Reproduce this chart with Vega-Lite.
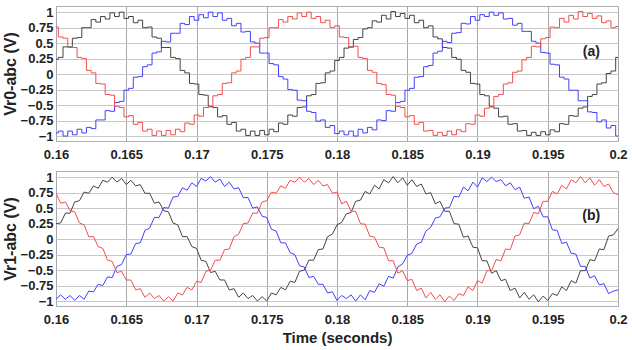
{
"$schema": "https://vega.github.io/schema/vega-lite/v6.json",
"padding": {"left": 1, "top": 5, "right": 0, "bottom": 5},
"bounds": "flush",
"spacing": 30,
"config": {
 "font": "Liberation Sans",
 "view": {"stroke": "#b0b0b0"},
 "axis": {"labelFont": "Liberation Sans", "labelFontWeight": "bold", "labelFontSize": 13, "labelColor": "#222222", "titleFont": "Liberation Sans", "titleFontWeight": "bold", "titleColor": "#222222", "ticks": false, "domain": false, "gridColor": "#c8c8c8", "gridOpacity": 1, "labelOverlap": false}
},
"datasets": {
"pa": [
{"t":0.16,"K":0.24,"B":-0.95,"R":0.76},
{"t":0.16033,"K":0.27,"B":-0.92,"R":0.60},
{"t":0.16067,"K":0.44,"B":-1.0,"R":0.58},
{"t":0.161,"K":0.44,"B":-0.92,"R":0.43},
{"t":0.16133,"K":0.58,"B":-0.98,"R":0.43},
{"t":0.16167,"K":0.59,"B":-0.89,"R":0.27},
{"t":0.162,"K":0.75,"B":-0.95,"R":0.25},
{"t":0.16233,"K":0.75,"B":-0.86,"R":0.06},
{"t":0.16267,"K":0.88,"B":-0.88,"R":0.02},
{"t":0.163,"K":0.84,"B":-0.74,"R":-0.15},
{"t":0.16333,"K":0.93,"B":-0.74,"R":-0.16},
{"t":0.16367,"K":0.89,"B":-0.59,"R":-0.33},
{"t":0.164,"K":0.99,"B":-0.60,"R":-0.34},
{"t":0.16433,"K":0.93,"B":-0.46,"R":-0.52},
{"t":0.16467,"K":1.0,"B":-0.44,"R":-0.54},
{"t":0.165,"K":0.90,"B":-0.26,"R":-0.69},
{"t":0.16533,"K":0.93,"B":-0.23,"R":-0.67},
{"t":0.16567,"K":0.83,"B":-0.05,"R":-0.81},
{"t":0.166,"K":0.87,"B":-0.04,"R":-0.78},
{"t":0.16633,"K":0.75,"B":0.12,"R":-0.92},
{"t":0.16667,"K":0.76,"B":0.15,"R":-0.89},
{"t":0.167,"K":0.60,"B":0.34,"R":-0.99},
{"t":0.16733,"K":0.58,"B":0.36,"R":-0.92},
{"t":0.16767,"K":0.43,"B":0.53,"R":-0.99},
{"t":0.168,"K":0.43,"B":0.52,"R":-0.91},
{"t":0.16833,"K":0.27,"B":0.66,"R":-0.98},
{"t":0.16867,"K":0.25,"B":0.66,"R":-0.89},
{"t":0.169,"K":0.06,"B":0.82,"R":-0.93},
{"t":0.16933,"K":0.02,"B":0.80,"R":-0.79},
{"t":0.16967,"K":-0.15,"B":0.93,"R":-0.81},
{"t":0.17,"K":-0.16,"B":0.87,"R":-0.66},
{"t":0.17033,"K":-0.33,"B":0.96,"R":-0.68},
{"t":0.17067,"K":-0.34,"B":0.91,"R":-0.54},
{"t":0.171,"K":-0.52,"B":1.0,"R":-0.53},
{"t":0.17133,"K":-0.54,"B":0.93,"R":-0.35},
{"t":0.17167,"K":-0.69,"B":0.99,"R":-0.33},
{"t":0.172,"K":-0.67,"B":0.87,"R":-0.15},
{"t":0.17233,"K":-0.81,"B":0.90,"R":-0.14},
{"t":0.17267,"K":-0.78,"B":0.78,"R":0.02},
{"t":0.173,"K":-0.92,"B":0.82,"R":0.05},
{"t":0.17333,"K":-0.89,"B":0.68,"R":0.24},
{"t":0.17367,"K":-0.99,"B":0.69,"R":0.27},
{"t":0.174,"K":-0.92,"B":0.52,"R":0.44},
{"t":0.17433,"K":-0.99,"B":0.50,"R":0.44},
{"t":0.17467,"K":-0.91,"B":0.34,"R":0.58},
{"t":0.175,"K":-0.98,"B":0.34,"R":0.59},
{"t":0.17533,"K":-0.89,"B":0.17,"R":0.75},
{"t":0.17567,"K":-0.93,"B":0.15,"R":0.75},
{"t":0.176,"K":-0.79,"B":-0.04,"R":0.88},
{"t":0.17633,"K":-0.81,"B":-0.08,"R":0.84},
{"t":0.17667,"K":-0.66,"B":-0.25,"R":0.93},
{"t":0.177,"K":-0.68,"B":-0.26,"R":0.89},
{"t":0.17733,"K":-0.54,"B":-0.42,"R":0.99},
{"t":0.17767,"K":-0.53,"B":-0.43,"R":0.93},
{"t":0.178,"K":-0.35,"B":-0.60,"R":1.0},
{"t":0.17833,"K":-0.33,"B":-0.62,"R":0.90},
{"t":0.17867,"K":-0.15,"B":-0.76,"R":0.93},
{"t":0.179,"K":-0.14,"B":-0.74,"R":0.83},
{"t":0.17933,"K":0.02,"B":-0.86,"R":0.87},
{"t":0.17967,"K":0.05,"B":-0.83,"R":0.75},
{"t":0.18,"K":0.22,"B":-0.96,"R":0.78},
{"t":0.18033,"K":0.27,"B":-0.92,"R":0.60},
{"t":0.18067,"K":0.42,"B":-0.98,"R":0.59},
{"t":0.181,"K":0.44,"B":-0.92,"R":0.43},
{"t":0.18133,"K":0.56,"B":-1.0,"R":0.45},
{"t":0.18167,"K":0.59,"B":-0.89,"R":0.27},
{"t":0.182,"K":0.73,"B":-0.95,"R":0.25},
{"t":0.18233,"K":0.75,"B":-0.86,"R":0.06},
{"t":0.18267,"K":0.86,"B":-0.90,"R":0.03},
{"t":0.183,"K":0.84,"B":-0.74,"R":-0.15},
{"t":0.18333,"K":0.95,"B":-0.75,"R":-0.17},
{"t":0.18367,"K":0.89,"B":-0.59,"R":-0.33},
{"t":0.184,"K":1.01,"B":-0.60,"R":-0.34},
{"t":0.18433,"K":0.93,"B":-0.46,"R":-0.52},
{"t":0.18467,"K":0.98,"B":-0.44,"R":-0.54},
{"t":0.185,"K":0.90,"B":-0.26,"R":-0.69},
{"t":0.18533,"K":0.95,"B":-0.23,"R":-0.67},
{"t":0.18567,"K":0.83,"B":-0.05,"R":-0.81},
{"t":0.186,"K":0.87,"B":-0.04,"R":-0.78},
{"t":0.18633,"K":0.75,"B":0.12,"R":-0.92},
{"t":0.18667,"K":0.78,"B":0.14,"R":-0.91},
{"t":0.187,"K":0.60,"B":0.34,"R":-0.99},
{"t":0.18733,"K":0.57,"B":0.37,"R":-0.94},
{"t":0.18767,"K":0.43,"B":0.53,"R":-0.99},
{"t":0.188,"K":0.42,"B":0.51,"R":-0.92},
{"t":0.18833,"K":0.27,"B":0.66,"R":-0.98},
{"t":0.18867,"K":0.24,"B":0.67,"R":-0.90},
{"t":0.189,"K":0.06,"B":0.82,"R":-0.93},
{"t":0.18933,"K":0.03,"B":0.81,"R":-0.80},
{"t":0.18967,"K":-0.15,"B":0.93,"R":-0.81},
{"t":0.19,"K":-0.16,"B":0.87,"R":-0.66},
{"t":0.19033,"K":-0.33,"B":0.96,"R":-0.68},
{"t":0.19067,"K":-0.35,"B":0.93,"R":-0.55},
{"t":0.191,"K":-0.52,"B":1.0,"R":-0.53},
{"t":0.19133,"K":-0.55,"B":0.95,"R":-0.36},
{"t":0.19167,"K":-0.69,"B":0.99,"R":-0.33},
{"t":0.192,"K":-0.68,"B":0.89,"R":-0.16},
{"t":0.19233,"K":-0.81,"B":0.90,"R":-0.14},
{"t":0.19267,"K":-0.80,"B":0.79,"R":0.03},
{"t":0.193,"K":-0.92,"B":0.82,"R":0.05},
{"t":0.19333,"K":-0.91,"B":0.69,"R":0.23},
{"t":0.19367,"K":-0.99,"B":0.69,"R":0.27},
{"t":0.194,"K":-0.94,"B":0.53,"R":0.45},
{"t":0.19433,"K":-0.99,"B":0.50,"R":0.44},
{"t":0.19467,"K":-0.93,"B":0.35,"R":0.57},
{"t":0.195,"K":-0.98,"B":0.34,"R":0.59},
{"t":0.19533,"K":-0.90,"B":0.16,"R":0.76},
{"t":0.19567,"K":-0.93,"B":0.15,"R":0.75},
{"t":0.196,"K":-0.80,"B":-0.05,"R":0.90},
{"t":0.19633,"K":-0.81,"B":-0.08,"R":0.84},
{"t":0.19667,"K":-0.67,"B":-0.26,"R":0.95},
{"t":0.197,"K":-0.68,"B":-0.26,"R":0.89},
{"t":0.19733,"K":-0.55,"B":-0.43,"R":1.01},
{"t":0.19767,"K":-0.53,"B":-0.43,"R":0.93},
{"t":0.198,"K":-0.36,"B":-0.61,"R":0.98},
{"t":0.19833,"K":-0.33,"B":-0.62,"R":0.90},
{"t":0.19867,"K":-0.16,"B":-0.77,"R":0.94},
{"t":0.199,"K":-0.14,"B":-0.74,"R":0.83},
{"t":0.19933,"K":0.01,"B":-0.87,"R":0.86},
{"t":0.19967,"K":0.05,"B":-0.83,"R":0.75},
{"t":0.2,"K":0.27,"B":-1.0,"R":0.77}
],
"pb": [
{"t":0.16,"K":0.25,"B":-0.97,"R":0.74},
{"t":0.16033,"K":0.26,"B":-0.90,"R":0.58},
{"t":0.16067,"K":0.42,"B":-0.97,"R":0.60},
{"t":0.161,"K":0.42,"B":-0.91,"R":0.46},
{"t":0.16133,"K":0.60,"B":-0.99,"R":0.44},
{"t":0.16167,"K":0.62,"B":-0.91,"R":0.26},
{"t":0.162,"K":0.76,"B":-0.97,"R":0.23},
{"t":0.16233,"K":0.74,"B":-0.84,"R":0.04},
{"t":0.16267,"K":0.86,"B":-0.85,"R":0.04},
{"t":0.163,"K":0.82,"B":-0.73,"R":-0.12},
{"t":0.16333,"K":0.95,"B":-0.75,"R":-0.15},
{"t":0.16367,"K":0.92,"B":-0.61,"R":-0.34},
{"t":0.164,"K":1.0,"B":-0.62,"R":-0.36},
{"t":0.16433,"K":0.92,"B":-0.44,"R":-0.54},
{"t":0.16467,"K":0.98,"B":-0.41,"R":-0.52},
{"t":0.165,"K":0.88,"B":-0.25,"R":-0.66},
{"t":0.16533,"K":0.95,"B":-0.24,"R":-0.66},
{"t":0.16567,"K":0.86,"B":-0.07,"R":-0.82},
{"t":0.166,"K":0.88,"B":-0.06,"R":-0.80},
{"t":0.16633,"K":0.74,"B":0.14,"R":-0.94},
{"t":0.16667,"K":0.74,"B":0.18,"R":-0.87},
{"t":0.167,"K":0.58,"B":0.35,"R":-0.96},
{"t":0.16733,"K":0.60,"B":0.35,"R":-0.91},
{"t":0.16767,"K":0.46,"B":0.51,"R":-1.0},
{"t":0.168,"K":0.44,"B":0.50,"R":-0.93},
{"t":0.16833,"K":0.26,"B":0.68,"R":-1.0},
{"t":0.16867,"K":0.23,"B":0.69,"R":-0.87},
{"t":0.169,"K":0.04,"B":0.83,"R":-0.90},
{"t":0.16933,"K":0.04,"B":0.79,"R":-0.78},
{"t":0.16967,"K":-0.12,"B":0.91,"R":-0.82},
{"t":0.17,"K":-0.15,"B":0.85,"R":-0.68},
{"t":0.17033,"K":-0.34,"B":0.98,"R":-0.70},
{"t":0.17067,"K":-0.36,"B":0.94,"R":-0.52},
{"t":0.171,"K":-0.54,"B":1.01,"R":-0.50},
{"t":0.17133,"K":-0.52,"B":0.92,"R":-0.34},
{"t":0.17167,"K":-0.66,"B":0.97,"R":-0.34},
{"t":0.172,"K":-0.66,"B":0.85,"R":-0.17},
{"t":0.17233,"K":-0.82,"B":0.92,"R":-0.16},
{"t":0.17267,"K":-0.80,"B":0.81,"R":0.04},
{"t":0.173,"K":-0.94,"B":0.83,"R":0.08},
{"t":0.17333,"K":-0.87,"B":0.67,"R":0.25},
{"t":0.17367,"K":-0.96,"B":0.67,"R":0.26},
{"t":0.174,"K":-0.91,"B":0.50,"R":0.42},
{"t":0.17433,"K":-1.0,"B":0.52,"R":0.42},
{"t":0.17467,"K":-0.93,"B":0.37,"R":0.60},
{"t":0.175,"K":-1.0,"B":0.35,"R":0.62},
{"t":0.17533,"K":-0.87,"B":0.16,"R":0.76},
{"t":0.17567,"K":-0.90,"B":0.13,"R":0.74},
{"t":0.176,"K":-0.78,"B":-0.06,"R":0.86},
{"t":0.17633,"K":-0.82,"B":-0.06,"R":0.82},
{"t":0.17667,"K":-0.68,"B":-0.22,"R":0.95},
{"t":0.177,"K":-0.70,"B":-0.25,"R":0.92},
{"t":0.17733,"K":-0.52,"B":-0.43,"R":1.0},
{"t":0.17767,"K":-0.50,"B":-0.45,"R":0.92},
{"t":0.178,"K":-0.34,"B":-0.62,"R":0.98},
{"t":0.17833,"K":-0.34,"B":-0.60,"R":0.88},
{"t":0.17867,"K":-0.17,"B":-0.73,"R":0.95},
{"t":0.179,"K":-0.16,"B":-0.73,"R":0.86},
{"t":0.17933,"K":0.04,"B":-0.87,"R":0.88},
{"t":0.17967,"K":0.08,"B":-0.85,"R":0.74},
{"t":0.18,"K":0.23,"B":-0.99,"R":0.76},
{"t":0.18033,"K":0.27,"B":-0.91,"R":0.57},
{"t":0.18067,"K":0.41,"B":-0.96,"R":0.61},
{"t":0.181,"K":0.43,"B":-0.90,"R":0.45},
{"t":0.18133,"K":0.61,"B":-1.0,"R":0.45},
{"t":0.18167,"K":0.63,"B":-0.90,"R":0.25},
{"t":0.182,"K":0.77,"B":-0.98,"R":0.24},
{"t":0.18233,"K":0.73,"B":-0.83,"R":0.05},
{"t":0.18267,"K":0.87,"B":-0.86,"R":0.03},
{"t":0.183,"K":0.81,"B":-0.72,"R":-0.13},
{"t":0.18333,"K":0.96,"B":-0.76,"R":-0.14},
{"t":0.18367,"K":0.91,"B":-0.60,"R":-0.35},
{"t":0.184,"K":1.01,"B":-0.63,"R":-0.35},
{"t":0.18433,"K":0.91,"B":-0.45,"R":-0.55},
{"t":0.18467,"K":0.99,"B":-0.40,"R":-0.51},
{"t":0.185,"K":0.87,"B":-0.26,"R":-0.67},
{"t":0.18533,"K":0.96,"B":-0.23,"R":-0.65},
{"t":0.18567,"K":0.85,"B":-0.08,"R":-0.83},
{"t":0.186,"K":0.89,"B":-0.05,"R":-0.79},
{"t":0.18633,"K":0.73,"B":0.13,"R":-0.95},
{"t":0.18667,"K":0.75,"B":0.19,"R":-0.86},
{"t":0.187,"K":0.57,"B":0.34,"R":-0.97},
{"t":0.18733,"K":0.61,"B":0.36,"R":-0.90},
{"t":0.18767,"K":0.45,"B":0.50,"R":-1.01},
{"t":0.188,"K":0.45,"B":0.51,"R":-0.92},
{"t":0.18833,"K":0.25,"B":0.69,"R":-0.99},
{"t":0.18867,"K":0.24,"B":0.68,"R":-0.88},
{"t":0.189,"K":0.03,"B":0.84,"R":-0.91},
{"t":0.18933,"K":0.05,"B":0.78,"R":-0.77},
{"t":0.18967,"K":-0.13,"B":0.92,"R":-0.83},
{"t":0.19,"K":-0.14,"B":0.84,"R":-0.67},
{"t":0.19033,"K":-0.35,"B":0.99,"R":-0.71},
{"t":0.19067,"K":-0.35,"B":0.93,"R":-0.51},
{"t":0.191,"K":-0.55,"B":1.0,"R":-0.51},
{"t":0.19133,"K":-0.51,"B":0.93,"R":-0.33},
{"t":0.19167,"K":-0.67,"B":0.96,"R":-0.35},
{"t":0.192,"K":-0.65,"B":0.86,"R":-0.16},
{"t":0.19233,"K":-0.83,"B":0.91,"R":-0.17},
{"t":0.19267,"K":-0.79,"B":0.80,"R":0.05},
{"t":0.193,"K":-0.95,"B":0.84,"R":0.07},
{"t":0.19333,"K":-0.86,"B":0.66,"R":0.26},
{"t":0.19367,"K":-0.97,"B":0.68,"R":0.25},
{"t":0.194,"K":-0.90,"B":0.49,"R":0.43},
{"t":0.19433,"K":-1.01,"B":0.53,"R":0.41},
{"t":0.19467,"K":-0.92,"B":0.36,"R":0.61},
{"t":0.195,"K":-0.99,"B":0.36,"R":0.61},
{"t":0.19533,"K":-0.88,"B":0.15,"R":0.77},
{"t":0.19567,"K":-0.91,"B":0.14,"R":0.73},
{"t":0.196,"K":-0.77,"B":-0.07,"R":0.87},
{"t":0.19633,"K":-0.83,"B":-0.05,"R":0.81},
{"t":0.19667,"K":-0.67,"B":-0.23,"R":0.96},
{"t":0.197,"K":-0.71,"B":-0.24,"R":0.91},
{"t":0.19733,"K":-0.51,"B":-0.44,"R":1.01},
{"t":0.19767,"K":-0.51,"B":-0.44,"R":0.91},
{"t":0.198,"K":-0.33,"B":-0.63,"R":0.99},
{"t":0.19833,"K":-0.35,"B":-0.59,"R":0.87},
{"t":0.19867,"K":-0.16,"B":-0.74,"R":0.96},
{"t":0.199,"K":-0.17,"B":-0.72,"R":0.85},
{"t":0.19933,"K":0.05,"B":-0.88,"R":0.89},
{"t":0.19967,"K":0.07,"B":-0.84,"R":0.75},
{"t":0.2,"K":0.17,"B":-0.82,"R":0.72}
]
},
"vconcat": [
{
 "width": 562, "height": 135,
 "encoding": {
  "x": {"field": "t", "type": "quantitative", "scale": {"domain": [0.16, 0.2], "nice": false, "zero": false},
        "axis": {"title": null, "values": [0.16, 0.165, 0.17, 0.175, 0.18, 0.185, 0.19, 0.195, 0.2], "format": ".3~f", "labelPadding": 7, "gridColor": "#a8a8a8", "labelFlush": false}},
  "y": {"field": "v", "type": "quantitative", "scale": {"domain": [-1.08, 1.1], "nice": false, "zero": false},
        "axis": {"title": "Vr0-abc (V)", "titleFontSize": 16, "values": [-1, -0.75, -0.5, -0.25, 0, 0.25, 0.5, 0.75, 1], "format": ".2~f", "labelPadding": 3, "titlePadding": 2}}
 },
 "layer": [
  {
   "data": {"name": "pa"},
   "transform": [{"fold": ["K", "B", "R"], "as": ["ph", "v"]}],
   "mark": {"type": "line", "interpolate": "step", "strokeWidth": 1, "clip": true},
   "encoding": {
    "color": {"field": "ph", "type": "nominal", "scale": {"domain": ["K", "B", "R"], "range": ["#444444", "#4040ff", "#f44c4c"]}, "legend": null}
   }
  },
  {
   "data": {"values": [{"t": 0.1981, "v": 0.35, "s": "(a)"}]},
   "mark": {"type": "text", "font": "Liberation Sans", "fontWeight": "bold", "fontSize": 14, "color": "#222222"},
   "encoding": {"text": {"field": "s"}}
  }
 ]
},
{
 "width": 562, "height": 135,
 "encoding": {
  "x": {"field": "t", "type": "quantitative", "scale": {"domain": [0.16, 0.2], "nice": false, "zero": false},
        "axis": {"title": "Time (seconds)", "titleFontSize": 15, "titlePadding": 4, "values": [0.16, 0.165, 0.17, 0.175, 0.18, 0.185, 0.19, 0.195, 0.2], "format": ".3~f", "labelPadding": 7, "gridColor": "#a8a8a8", "labelFlush": false}},
  "y": {"field": "v", "type": "quantitative", "scale": {"domain": [-1.08, 1.1], "nice": false, "zero": false},
        "axis": {"title": "Vr1-abc (V)", "titleFontSize": 16, "values": [-1, -0.75, -0.5, -0.25, 0, 0.25, 0.5, 0.75, 1], "format": ".2~f", "labelPadding": 3, "titlePadding": 2}}
 },
 "layer": [
  {
   "data": {"name": "pb"},
   "transform": [{"fold": ["K", "B", "R"], "as": ["ph", "v"]}],
   "mark": {"type": "line", "strokeWidth": 1, "clip": true},
   "encoding": {
    "color": {"field": "ph", "type": "nominal", "scale": {"domain": ["K", "B", "R"], "range": ["#444444", "#4040ff", "#f44c4c"]}, "legend": null}
   }
  },
  {
   "data": {"values": [{"t": 0.1981, "v": 0.38, "s": "(b)"}]},
   "mark": {"type": "text", "font": "Liberation Sans", "fontWeight": "bold", "fontSize": 14, "color": "#222222"},
   "encoding": {"text": {"field": "s"}}
  }
 ]
}
]
}
